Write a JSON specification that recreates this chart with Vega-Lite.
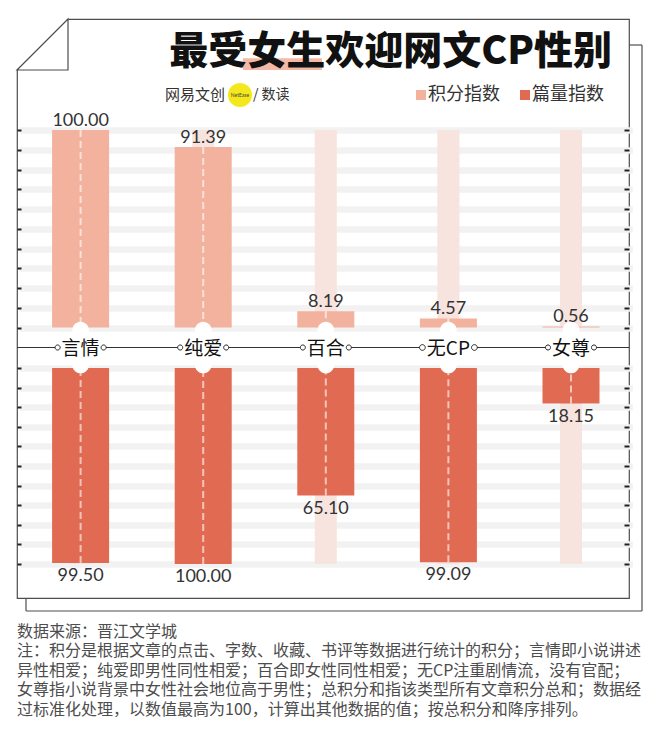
{
  "$schema": "https://vega.github.io/schema/vega-lite/v6.json",
  "width": 612,
  "height": 579,
  "autosize": {"type": "none"},
  "padding": {"left": 17, "top": 19, "right": 31, "bottom": 134},
  "background": "white",
  "view": {"stroke": "#4d4d4d", "strokeWidth": 1.2, "fill": "white"},
  "config": {"font": "Noto Sans CJK SC"},
  "title": {
    "text": "最受女生欢迎网文CP性别",
    "orient": "top",
    "anchor": "end",
    "frame": "group",
    "offset": -86,
    "dx": -17,
    "baseline": "alphabetic",
    "font": "Noto Sans CJK SC",
    "fontSize": 39,
    "fontWeight": 900,
    "color": "#111111",
    "zindex": 1
  },
  "datasets": {
    "cp": [
      {"cp": "言情", "series": "积分指数", "value": 100.00},
      {"cp": "纯爱", "series": "积分指数", "value": 91.39},
      {"cp": "百合", "series": "积分指数", "value": 8.19},
      {"cp": "无CP", "series": "积分指数", "value": 4.57},
      {"cp": "女尊", "series": "积分指数", "value": 0.56},
      {"cp": "言情", "series": "篇量指数", "value": 99.50},
      {"cp": "纯爱", "series": "篇量指数", "value": 100.00},
      {"cp": "百合", "series": "篇量指数", "value": 65.10},
      {"cp": "无CP", "series": "篇量指数", "value": 99.09},
      {"cp": "女尊", "series": "篇量指数", "value": 18.15}
    ],
    "one": [{}]
  },
  "data": {"name": "cp"},
  "resolve": {"scale": {"y": "independent"}},
  "layer": [
    {
      "transform": [{"filter": "datum.series === '积分指数'"}],
      "mark": {"type": "bar", "width": {"band": 0.18}, "fill": "#f8e4de"},
      "encoding": {
        "x": {"field": "cp", "type": "nominal", "sort": null, "scale": {"type": "band", "domain": ["言情", "纯爱", "百合", "无CP", "女尊"], "range": [2.3, 615.3], "paddingInner": 0, "paddingOuter": 0}, "axis": null},
        "y": {"datum": 100, "type": "quantitative", "scale": {"domain": [0, 100], "range": [308.5, 111], "nice": false, "zero": false},
          "axis": {"orient": "left", "values": [0, 10, 20, 30, 40, 50, 60, 70, 80, 90, 100], "grid": true, "gridColor": "#f2f2f2", "gridWidth": 6.5, "ticks": false, "labels": false, "domain": false, "title": null}},
        "y2": {"datum": 0}
      }
    },
    {
      "transform": [{"filter": "datum.series === '篇量指数'"}],
      "mark": {"type": "bar", "width": {"band": 0.18}, "fill": "#f8e4de"},
      "encoding": {
        "x": {"field": "cp", "type": "nominal", "sort": null, "axis": null},
        "y": {"datum": 100, "type": "quantitative", "scale": {"domain": [0, 100], "range": [349, 545], "nice": false, "zero": false},
          "axis": {"orient": "left", "values": [0, 10, 20, 30, 40, 50, 60, 70, 80, 90, 100], "grid": true, "gridColor": "#f2f2f2", "gridWidth": 6.5, "ticks": false, "labels": false, "domain": false, "title": null}},
        "y2": {"datum": 0}
      }
    },
    {
      "transform": [{"filter": "datum.series === '积分指数'"}],
      "mark": {"type": "bar", "width": {"band": 0.465}, "opacity": 1},
      "encoding": {
        "x": {"field": "cp", "type": "nominal", "sort": null, "axis": null},
        "y": {"field": "value", "type": "quantitative", "scale": {"domain": [0, 100], "range": [308.5, 111], "nice": false, "zero": false},
          "axis": {"orient": "left", "values": [0, 10, 20, 30, 40, 50, 60, 70, 80, 90, 100], "grid": false, "ticks": true, "tickSize": -4, "tickWidth": 2, "tickColor": "#222222", "labels": false, "domain": false, "title": null, "zindex": 1}},
        "y2": {"datum": 0},
        "color": {"field": "series", "type": "nominal", "scale": {"domain": ["积分指数", "篇量指数"], "range": ["#f2b29d", "#e06b52"]},
          "legend": {"orient": "none", "legendX": 395, "legendY": 67, "direction": "horizontal", "title": null, "symbolType": "square", "symbolSize": 100, "symbolStrokeWidth": 0, "symbolOpacity": 1, "labelFontSize": 18, "labelFont": "Noto Sans CJK SC", "labelColor": "#333333", "labelOffset": -2, "columnPadding": 16, "padding": 0}}
      }
    },
    {
      "transform": [{"filter": "datum.series === '篇量指数'"}],
      "mark": {"type": "bar", "width": {"band": 0.465}, "opacity": 1},
      "encoding": {
        "x": {"field": "cp", "type": "nominal", "sort": null, "axis": null},
        "y": {"field": "value", "type": "quantitative", "scale": {"domain": [0, 100], "range": [349, 545], "nice": false, "zero": false},
          "axis": {"orient": "left", "values": [0, 10, 20, 30, 40, 50, 60, 70, 80, 90, 100], "grid": false, "ticks": true, "tickSize": -4, "tickWidth": 2, "tickColor": "#222222", "labels": false, "domain": false, "title": null, "zindex": 1}},
        "y2": {"datum": 0},
        "color": {"field": "series", "type": "nominal"}
      }
    },
    {
      "transform": [{"filter": "datum.series === '积分指数'"}],
      "mark": {"type": "rule", "color": "white", "opacity": 0.6, "strokeWidth": 2, "strokeDash": [7, 4]},
      "encoding": {
        "x": {"field": "cp", "type": "nominal", "sort": null, "axis": null},
        "y": {"field": "value", "type": "quantitative", "scale": {"domain": [0, 100], "range": [308.5, 111], "nice": false, "zero": false},
          "axis": {"orient": "right", "values": [0, 10, 20, 30, 40, 50, 60, 70, 80, 90, 100], "grid": false, "ticks": true, "tickSize": -5, "tickWidth": 2, "tickColor": "#222222", "labels": false, "domain": false, "title": null, "zindex": 1}},
        "y2": {"datum": 0}
      }
    },
    {
      "transform": [{"filter": "datum.series === '篇量指数'"}],
      "mark": {"type": "rule", "color": "white", "opacity": 0.6, "strokeWidth": 2, "strokeDash": [7, 4]},
      "encoding": {
        "x": {"field": "cp", "type": "nominal", "sort": null, "axis": null},
        "y": {"field": "value", "type": "quantitative", "scale": {"domain": [0, 100], "range": [349, 545], "nice": false, "zero": false},
          "axis": {"orient": "right", "values": [0, 10, 20, 30, 40, 50, 60, 70, 80, 90, 100], "grid": false, "ticks": true, "tickSize": -5, "tickWidth": 2, "tickColor": "#222222", "labels": false, "domain": false, "title": null, "zindex": 1}},
        "y2": {"datum": 0}
      }
    },
    {
      "transform": [{"filter": "datum.series === '积分指数'"}],
      "mark": {"type": "text", "font": "Lato", "fontSize": 18, "color": "#333333", "baseline": "alphabetic", "dy": -4},
      "encoding": {
        "x": {"field": "cp", "type": "nominal", "sort": null, "axis": null},
        "y": {"field": "value", "type": "quantitative", "scale": {"domain": [0, 100], "range": [308.5, 111], "nice": false, "zero": false}, "axis": null},
        "text": {"field": "value", "type": "quantitative", "format": ".2f"}
      }
    },
    {
      "transform": [{"filter": "datum.series === '篇量指数'"}],
      "mark": {"type": "text", "font": "Lato", "fontSize": 18, "color": "#333333", "baseline": "alphabetic", "dy": 18},
      "encoding": {
        "x": {"field": "cp", "type": "nominal", "sort": null, "axis": null},
        "y": {"field": "value", "type": "quantitative", "scale": {"domain": [0, 100], "range": [349, 545], "nice": false, "zero": false}, "axis": null},
        "text": {"field": "value", "type": "quantitative", "format": ".2f"}
      }
    },
    {
      "data": {"name": "one"},
      "mark": {"type": "rule", "color": "#333333", "strokeWidth": 1.2},
      "encoding": {"y": {"value": 328.5}}
    },
    {
      "transform": [{"filter": "datum.series === '积分指数'"}],
      "mark": {"type": "point", "shape": "M-0.322,-0.678A0.322,0.322 0 0,1 0.322,-0.678L0.322,0.678A0.322,0.322 0 0,1 -0.322,0.678Z", "filled": true, "fill": "white", "strokeWidth": 0, "opacity": 1, "size": 2663},
      "encoding": {
        "x": {"field": "cp", "type": "nominal", "sort": null, "axis": null},
        "y": {"value": 328.5}
      }
    },
    {
      "transform": [{"filter": "datum.series === '积分指数'"}],
      "mark": {"type": "point", "shape": "M-1,-0.45L1,-0.45L1,0.45L-1,0.45Z", "filled": true, "fill": "white", "strokeWidth": 0, "opacity": 1},
      "encoding": {
        "x": {"field": "cp", "type": "nominal", "sort": null, "axis": null},
        "y": {"value": 328.5},
        "size": {"condition": {"test": "datum.cp === '无CP'", "value": 2704}, "value": 2116}
      }
    },
    {
      "transform": [{"filter": "datum.series === '积分指数'"}],
      "mark": {"type": "point", "shape": "M-1.11,0A0.11,0.11 0 1,0 -0.89,0A0.11,0.11 0 1,0 -1.11,0Z M0.89,0A0.11,0.11 0 1,0 1.11,0A0.11,0.11 0 1,0 0.89,0Z", "filled": true, "fill": "white", "stroke": "#222222", "strokeWidth": 1, "opacity": 1},
      "encoding": {
        "x": {"field": "cp", "type": "nominal", "sort": null, "axis": null},
        "y": {"value": 328.5},
        "size": {"condition": {"test": "datum.cp === '无CP'", "value": 2704}, "value": 2116}
      }
    },
    {
      "transform": [{"filter": "datum.series === '积分指数'"}],
      "mark": {"type": "text", "font": "Noto Sans CJK SC", "fontSize": 19, "color": "#111111", "baseline": "middle", "dy": 1},
      "encoding": {
        "x": {"field": "cp", "type": "nominal", "sort": null, "axis": null},
        "y": {"value": 328.5},
        "text": {"field": "cp", "type": "nominal"}
      }
    },
    {
      "data": {"name": "one"},
      "mark": {"type": "point", "shape": "M-1.06,-1.06L1.04,-1.06L-1.06,1.04Z", "filled": true, "fill": "white", "strokeWidth": 0, "opacity": 1, "size": 2601},
      "encoding": {"x": {"value": 25.5}, "y": {"value": 25.5}}
    },
    {
      "data": {"name": "one"},
      "mark": {"type": "point", "shape": "M1,-1L1,1L-1,1Z", "filled": true, "fill": "white", "stroke": "#4d4d4d", "strokeWidth": 1.2, "opacity": 1, "size": 2601},
      "encoding": {"x": {"value": 25.5}, "y": {"value": 25.5}}
    },
    {
      "data": {"name": "one"},
      "mark": {"type": "rule", "color": "#4d4d4d", "strokeWidth": 1.2},
      "encoding": {"x": {"value": 625}, "y": {"value": 26}, "y2": {"value": 592}}
    },
    {
      "data": {"name": "one"},
      "mark": {"type": "rule", "color": "#4d4d4d", "strokeWidth": 1.2},
      "encoding": {"y": {"value": 592}, "x": {"value": 9}, "x2": {"value": 625}}
    },
    {
      "data": {"name": "one"},
      "mark": {"type": "rule", "color": "#4d4d4d", "strokeWidth": 1.2},
      "encoding": {"x": {"value": 9}, "y": {"value": 579}, "y2": {"value": 592}}
    },
    {
      "data": {"name": "one"},
      "mark": {"type": "rule", "color": "#4d4d4d", "strokeWidth": 1.2},
      "encoding": {"y": {"value": 26}, "x": {"value": 612}, "x2": {"value": 625}}
    },
    {
      "data": {"name": "one"},
      "mark": {"type": "rect", "fill": "#f3b8a6"},
      "encoding": {"x": {"value": 226}, "x2": {"value": 305}, "y": {"value": 39.3}, "y2": {"value": 51}}
    },
    {
      "data": {"name": "one"},
      "mark": {"type": "text", "text": "网易文创", "font": "Noto Sans CJK SC", "fontSize": 15, "color": "#333333", "align": "left", "baseline": "middle"},
      "encoding": {"x": {"value": 148}, "y": {"value": 76}}
    },
    {
      "data": {"name": "one"},
      "mark": {"type": "point", "shape": "circle", "filled": true, "fill": "#f4e81c", "strokeWidth": 0, "opacity": 1, "size": 576},
      "encoding": {"x": {"value": 223}, "y": {"value": 76}}
    },
    {
      "data": {"name": "one"},
      "mark": {"type": "text", "text": "NetEase", "font": "Lato", "fontSize": 5, "color": "#444444", "align": "center", "baseline": "middle"},
      "encoding": {"x": {"value": 223}, "y": {"value": 76}}
    },
    {
      "data": {"name": "one"},
      "mark": {"type": "text", "text": "/ 数读", "font": "Noto Sans CJK SC", "fontSize": 14, "color": "#333333", "align": "left", "baseline": "middle"},
      "encoding": {"x": {"value": 236}, "y": {"value": 76}}
    },
    {
      "data": {"name": "one"},
      "mark": {
        "type": "text",
        "text": [
          "数据来源：晋江文学城",
          "注：积分是根据文章的点击、字数、收藏、书评等数据进行统计的积分；言情即小说讲述",
          "异性相爱；纯爱即男性同性相爱；百合即女性同性相爱；无CP注重剧情流，没有官配；",
          "女尊指小说背景中女性社会地位高于男性；总积分和指该类型所有文章积分总和；数据经",
          "过标准化处理，以数值最高为100，计算出其他数据的值；按总积分和降序排列。"
        ],
        "font": "Noto Sans CJK SC",
        "fontSize": 16,
        "lineHeight": 19.5,
        "color": "#4d4d4d",
        "align": "left",
        "baseline": "top"
      },
      "encoding": {"x": {"value": 0}, "y": {"value": 604.5}}
    }
  ]
}
